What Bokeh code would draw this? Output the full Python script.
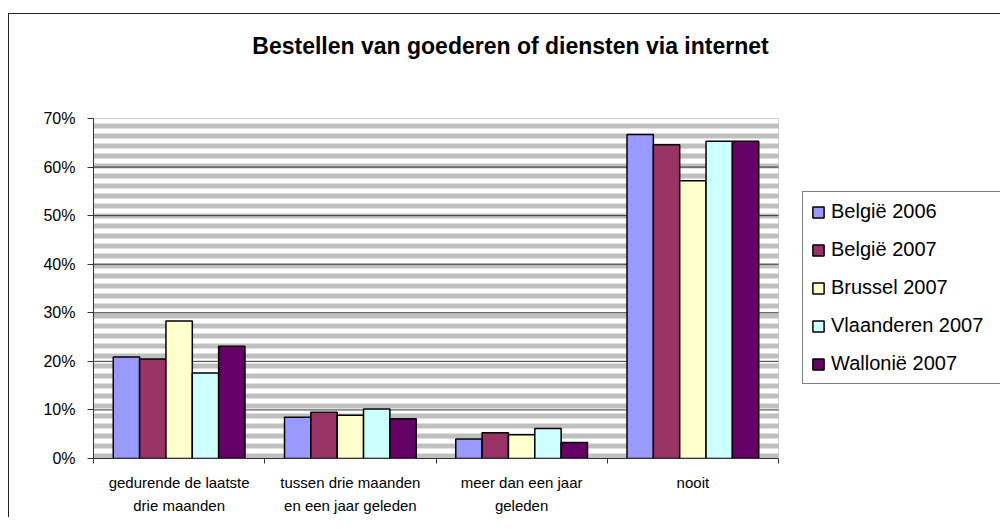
import numpy as np
from bokeh.plotting import figure
from bokeh.models import (Range1d, FixedTicker, NumeralTickFormatter, Legend, LegendItem,
                          BoxAnnotation, ColumnDataSource, InlineStyleSheet, Label)
from bokeh.embed import file_html
from bokeh.resources import INLINE

# ---------------- data ----------------
title_text = "Bestellen van goederen of diensten via internet"
categories = ["gedurende de laatste drie maanden",
              "tussen drie maanden en een jaar geleden",
              "meer dan een jaar geleden",
              "nooit"]
category_labels = ["gedurende de laatste\ndrie maanden",
                   "tussen drie maanden\nen een jaar geleden",
                   "meer dan een jaar\ngeleden",
                   "nooit"]
series_names = ["België 2006", "België 2007", "Brussel 2007", "Vlaanderen 2007", "Wallonië 2007"]
belgie_2006 = [0.209, 0.085, 0.040, 0.667]
belgie_2007 = [0.205, 0.095, 0.053, 0.646]
brussel_2007 = [0.283, 0.089, 0.049, 0.572]
vlaanderen_2007 = [0.176, 0.102, 0.062, 0.653]
wallonie_2007 = [0.231, 0.082, 0.033, 0.653]
series_values = [belgie_2006, belgie_2007, brussel_2007, vlaanderen_2007, wallonie_2007]
series_colors = ["#9999FF", "#993366", "#FFFFCC", "#CCFFFF", "#660066"]
y_ticks = [0.0, 0.1, 0.2, 0.3, 0.4, 0.5, 0.6, 0.7]
y_max = 0.7

FONT = "Liberation Sans"

# ---------------- geometry (pixels) ----------------
W, H = 1000, 517
PLOT_L, PLOT_R, PLOT_T, PLOT_B = 93, 778, 118, 458   # plot area
# the bokeh frame spans from PLOT_L to the right edge and from the top to PLOT_B,
# so that title and legend can be drawn inside it; ranges are scaled accordingly
x_end = len(categories) * (W - PLOT_L) / (PLOT_R - PLOT_L)
y_end = y_max * PLOT_B / (PLOT_B - PLOT_T)

# outer chart border (only its left and top edges fall inside the picture)
border_css = InlineStyleSheet(css="""
:host::after { content: ""; position: absolute; left: 8px; top: 13px; right: 0px; bottom: 0px;
               box-sizing: border-box;
               border-left: 1px solid #222222; border-top: 1px solid #222222;
               pointer-events: none; }
""")

p = figure(width=W, height=H, output_backend="svg", toolbar_location=None, title=None,
           x_range=Range1d(0, x_end), y_range=Range1d(0, y_end),
           min_border_left=PLOT_L, min_border_right=0, min_border_top=0,
           min_border_bottom=H - PLOT_B, stylesheets=[border_css])
p.background_fill_color = "white"
p.border_fill_color = "white"
p.outline_line_color = None
p.xgrid.visible = False
p.ygrid.visible = False

# striped plot area background
stripes = BoxAnnotation(left=0, right=len(categories), bottom=0, top=y_max,
                        fill_color="white", fill_alpha=1.0, line_color=None,
                        hatch_pattern="horizontal_line", hatch_color="#C0C0C0",
                        hatch_weight=5, hatch_scale=10, level="image")
p.add_layout(stripes)

# horizontal grid lines at the inner ticks
grid_src = ColumnDataSource(dict(y=y_ticks[1:-1]))
p.segment(x0=0, x1=len(categories), y0="y", y1="y", source=grid_src,
          line_color="#333333", line_width=1, level="underlay")

# plot area border (gray, top and right)
frame_box = BoxAnnotation(left=0, right=len(categories), bottom=0, top=y_max,
                          fill_alpha=0, line_color="#808080", line_width=1, level="underlay")
p.add_layout(frame_box)

# bars
n = len(series_names)
bw = 1.0 / (n + 1.5)
centers = np.arange(len(categories)) + 0.5
items = []
for j, (name, vals, col) in enumerate(zip(series_names, series_values, series_colors)):
    xs = centers + (j - (n - 1) / 2) * bw
    src = ColumnDataSource(dict(x=xs, top=vals, cat=categories))
    r = p.vbar(x="x", top="top", width=bw, bottom=0, source=src,
               fill_color=col, line_color="black", line_width=1.5)
    items.append(LegendItem(label=name, renderers=[r]))

# y axis
ya = p.yaxis[0]
ya.ticker = FixedTicker(ticks=y_ticks)
ya.bounds = (0, y_max)
ya.formatter = NumeralTickFormatter(format="0%")
ya.major_label_text_font = FONT
ya.major_label_text_font_size = "16px"
ya.major_label_text_color = "black"
ya.major_tick_out = 6
ya.major_tick_in = 0
ya.minor_tick_line_color = None
ya.major_label_standoff = 12
ya.axis_line_color = "#333333"
ya.major_tick_line_color = "#333333"

# x axis: labels at category centers, ticks at category boundaries
xa = p.xaxis[0]
xa.ticker = FixedTicker(ticks=list(centers), minor_ticks=list(range(len(categories) + 1)))
xa.bounds = (0, len(categories))
xa.major_label_overrides = {float(c): lab for c, lab in zip(centers, category_labels)}
xa.major_tick_line_color = None
xa.major_tick_out = 0
xa.major_tick_in = 0
xa.minor_tick_line_color = "#333333"
xa.minor_tick_out = 5
xa.minor_tick_in = 0
xa.axis_line_color = "#333333"
xa.major_label_text_font = FONT
xa.major_label_text_font_size = "15px"
xa.major_label_text_color = "black"
xa.major_label_text_line_height = 1.4
xa.major_label_standoff = 10

# title
title = Label(x=510 - PLOT_L, y=PLOT_B - 45, x_units="screen", y_units="screen",
              text=title_text, text_align="center", text_baseline="middle",
              text_font=FONT, text_font_size="23px", text_font_style="bold",
              text_color="black")
p.add_layout(title)

# legend
legend = Legend(items=items, location=(802 - PLOT_L, PLOT_B - 384), orientation="vertical",
                label_text_font=FONT, label_text_font_size="20px", label_text_color="black",
                glyph_width=14, glyph_height=14, label_height=23, label_width=175,
                label_standoff=6, spacing=15, padding=8, margin=0,
                border_line_color="black", border_line_width=1,
                background_fill_color="white", background_fill_alpha=1.0)
p.add_layout(legend)

open("out.html", "w").write(file_html(p, INLINE))
